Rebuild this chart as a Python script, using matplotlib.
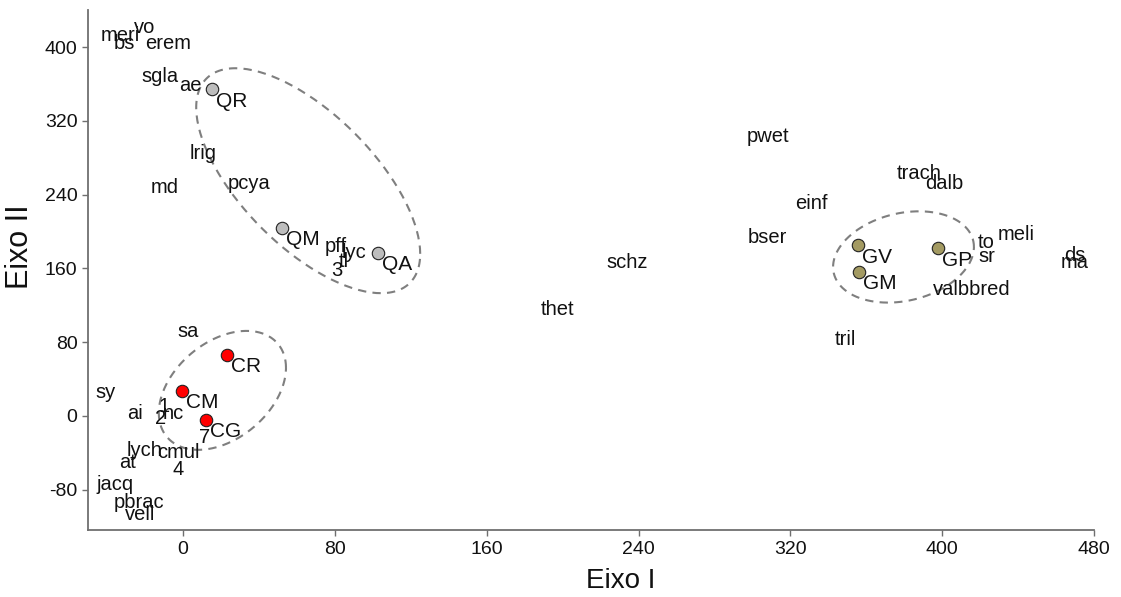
import numpy as np
import matplotlib
matplotlib.use("Agg")
import matplotlib.pyplot as plt

plt.rcParams["font.family"] = ["Liberation Sans", "DejaVu Sans"]
plt.rcParams["axes.unicode_minus"] = False

# species scores (label centres)
species = ["vo", "meri", "bs", "erem", "sgla", "ae", "lrig", "md", "pcya",
           "pff", "lyc", "tl", "3", "schz", "thet", "pwet", "trach", "dalb",
           "einf", "bser", "to", "meli", "sr", "ds", "ma", "valbbred", "tril",
           "sa", "sy", "ai", "1", "2", "nc", "7", "lych", "cmul", "at", "4",
           "jacq", "pbrac", "vell"]
species_x = [-20, -33, -31, -8, -12, 4, 10.5, -9.5, 35,
             80.6, 90, 85, 81, 234, 197.5, 308, 388, 401,
             331, 308, 423, 439, 423.6, 470, 470, 415.7, 349,
             2.6, -40.6, -25, -10, -12, -5, 11.6, -20, -2.6, -29, -2.6,
             -36, -23, -22.7]
species_y = [421, 412, 404, 404, 368, 358, 285, 248, 252,
             184, 177, 167, 158, 166, 115, 303, 263, 252,
             230, 193, 188.5, 197, 173, 174, 166, 136.5, 83,
             91, 25, 3, 10, -3, 2, -23, -38, -40, -51, -58.5,
             -75, -94, -107]

# site scores
sites = ["QR", "QM", "QA", "CR", "CM", "CG", "GV", "GM", "GP"]
site_x = [15.3, 52, 103, 23, -0.5, 12, 355.6, 356, 398]
site_y = [354, 204, 177, 66, 27, -4.3, 185, 156, 182]
site_group = ["Q", "Q", "Q", "C", "C", "C", "G", "G", "G"]

# group ellipses: centre, spread and correlation in data units
group_colors = {"Q": "#BDBDBD", "C": "#FF0000", "G": "#A39A62"}
ell_cx = [66, 20.8, 379.6]
ell_cy = [255, 27.6, 172.3]
ell_sx = [59, 33.5, 37.1]
ell_sy = [122, 64.5, 49.5]
ell_r = [-0.65, 0.38, 0.22]

fig = plt.figure(figsize=(11.21, 5.97), dpi=100)
ax = fig.add_axes([0.0785, 0.112, 0.8975, 0.871])

# ellipses
t = np.linspace(0, 2 * np.pi, 200)
for cx, cy, sx, sy, r in zip(ell_cx, ell_cy, ell_sx, ell_sy, ell_r):
    ex = cx + sx * np.cos(t)
    ey = cy + sy * (r * np.cos(t) + np.sqrt(1 - r ** 2) * np.sin(t))
    ax.plot(ex, ey, color="#7F7F7F", linestyle=(0, (4, 3)), linewidth=1.5)

# species labels
for name, x, y in zip(species, species_x, species_y):
    ax.text(x, y, name, fontsize=14.5, color="#111111",
            ha="center", va="center")

# sites
for name, x, y, g in zip(sites, site_x, site_y, site_group):
    ax.scatter(x, y, s=80, color=group_colors[g], edgecolor="#222222",
               linewidth=0.8, zorder=3)
    ax.annotate(name, (x, y), xytext=(4, -12), textcoords="offset pixels",
                fontsize=15, color="#111111", ha="left", va="center")

ax.set_xlim(-50, 480)
ax.set_ylim(-124, 440)
ax.set_xticks([0, 80, 160, 240, 320, 400, 480])
ax.set_yticks([-80, 0, 80, 160, 240, 320, 400])

for side in ["top", "right"]:
    ax.spines[side].set_visible(False)
for side in ["left", "bottom"]:
    ax.spines[side].set_color("#6F6F6F")
    ax.spines[side].set_linewidth(1.3)
ax.tick_params(colors="#6F6F6F", labelcolor="#111111", labelsize=14,
               length=4, width=1)

ax.set_xlabel("Eixo I", fontsize=20, color="#111111")
ax.set_ylabel("Eixo II", fontsize=22, color="#111111")
ax.xaxis.set_label_coords(0.529, -0.072)
ax.yaxis.set_label_coords(-0.053, 0.545)

fig.savefig("out.png", dpi=100)
